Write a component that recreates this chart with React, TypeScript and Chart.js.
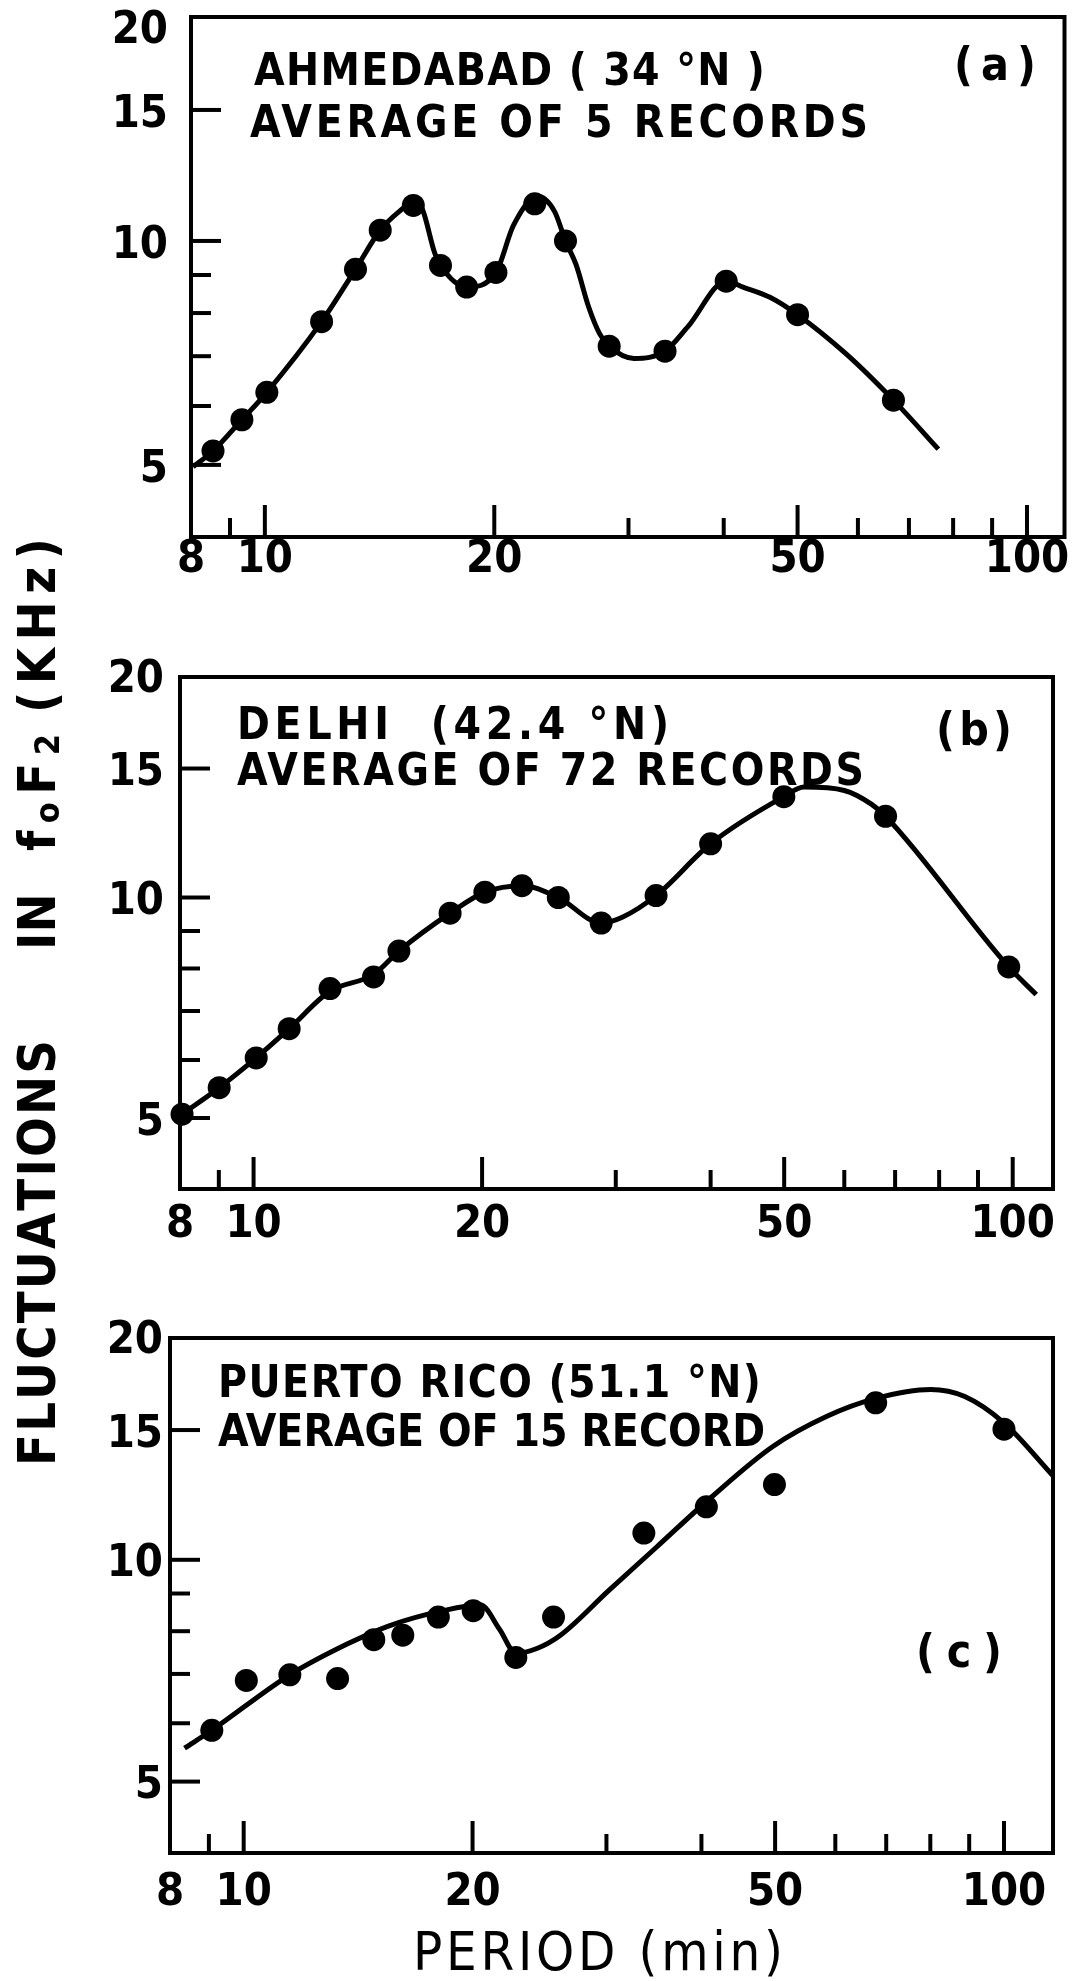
import React, { useEffect, useRef } from 'react';
import { Chart, registerables } from 'chart.js';
Chart.register(...registerables);

// ---------------- data (period in min, fluctuation in kHz) ----------------
// (a) Ahmedabad
const periodsA = [8.55, 9.33, 10.06, 11.87, 13.15, 14.17, 15.66, 17.0, 18.4, 20.1, 22.6, 24.8, 28.3, 33.5, 40.3, 50.0, 66.8];
const fluctA = [5.22, 5.75, 6.26, 7.79, 9.16, 10.34, 11.16, 9.27, 8.67, 9.07, 11.22, 10.0, 7.22, 7.11, 8.83, 7.96, 6.11];
const curvePeriodsA = [8.05, 8.55, 9.33, 10.06, 11.87, 13.15, 14.17, 15.0, 15.7, 16.1, 16.7, 17.0, 18.4, 20.1, 21.2, 22.8, 24.0, 24.8, 25.6, 26.6, 27.5, 28.3, 30.5, 33.5, 35.9, 40.3, 42.4, 46.0, 50.0, 57.9, 66.8, 76.5];
const curveFluctA = [4.97, 5.22, 5.75, 6.26, 7.79, 9.16, 10.34, 10.95, 11.3, 11.02, 9.64, 9.27, 8.67, 9.07, 10.5, 11.48, 10.95, 10.0, 9.3, 8.15, 7.5, 7.22, 6.95, 7.11, 7.67, 8.83, 8.67, 8.4, 7.96, 7.05, 6.11, 5.25];

// (b) Delhi
const periodsB = [8.05, 9.01, 10.08, 11.14, 12.61, 14.39, 15.54, 18.15, 20.17, 22.57, 25.2, 28.7, 33.9, 40.0, 49.95, 68.0, 98.8];
const fluctB = [5.06, 5.5, 6.04, 6.62, 7.51, 7.79, 8.45, 9.52, 10.17, 10.38, 10.0, 9.23, 10.06, 11.84, 13.73, 12.91, 8.04];
const curvePeriodsB = [8.05, 9.01, 10.08, 11.14, 12.61, 14.39, 15.54, 18.15, 20.17, 22.57, 25.2, 28.7, 30.6, 33.9, 40.0, 49.95, 53.1, 60.0, 65.2, 68.0, 98.8, 107.4];
const curveFluctB = [5.06, 5.5, 6.04, 6.62, 7.45, 7.85, 8.45, 9.52, 10.17, 10.38, 10.0, 9.23, 9.4, 10.06, 11.84, 13.73, 14.15, 14.0, 13.4, 12.91, 8.04, 7.37];

// (c) Puerto Rico
const periodsC = [9.08, 10.08, 11.5, 13.29, 14.83, 16.19, 18.03, 20.04, 22.8, 25.56, 33.6, 40.6, 49.9, 67.8, 100];
const fluctC = [5.87, 6.86, 6.98, 6.9, 7.79, 7.9, 8.36, 8.53, 7.37, 8.36, 10.87, 11.8, 12.65, 16.33, 15.04];
const curvePeriodsC = [8.36, 9.08, 11.5, 13.7, 15.5, 18.3, 20.5, 21.7, 22.8, 24.3, 26.1, 30.2, 34.9, 41.1, 49.6, 58.5, 67.8, 80.1, 88.8, 100, 116];
const curveFluctC = [5.55, 5.87, 6.98, 7.69, 8.13, 8.53, 8.68, 8.05, 7.47, 7.58, 7.9, 9.08, 10.4, 12.13, 14.24, 15.66, 16.56, 17.03, 16.66, 15.34, 13.0];

// axis ticks
const yTickMajor = [5, 10, 15];
const yTickMinor = [6, 7, 8, 9];
const yTickLabels = [5, 10, 15, 20];
const xTickMajor = [10, 20, 50, 100];
const xTickMinor = [9, 30, 40, 60, 70, 80, 90];
const xTickLabels = [8, 10, 20, 50, 100];

const Y_MIN = 4;
const Y_MAX = 20;
const X_MIN = 8;

const FAMILY = "'DejaVu Sans Condensed', 'DejaVu Sans', sans-serif";

type Txt = { text: string; x: number; y: number; w: number; size: number; weight: string };

type PanelSpec = {
  top: number;
  height: number;
  pad: { left: number; right: number; top: number; bottom: number };
  xMax: number;
  yLabelRight: number;
  topDy: number;
  xLabelDy: number;
  texts: Txt[];
  px: number[];
  py: number[];
  cx: number[];
  cy: number[];
};

const panels: PanelSpec[] = [
  {
    top: 0, height: 610,
    pad: { left: 191, right: 9, top: 17, bottom: 73 },
    xMax: 112, yLabelRight: 168, topDy: 14, xLabelDy: 23,
    texts: [
      { text: 'AHMEDABAD ( 34 °N )', x: 254, y: 85, w: 511, size: 44, weight: 'bold' },
      { text: 'AVERAGE OF 5 RECORDS', x: 250, y: 137, w: 618, size: 44, weight: 'bold' },
      { text: '(a)', x: 954, y: 80, w: 82, size: 46, weight: 'bold' },
    ],
    px: periodsA, py: fluctA, cx: curvePeriodsA, cy: curveFluctA,
  },
  {
    top: 610, height: 640,
    pad: { left: 180, right: 23, top: 67, bottom: 61 },
    xMax: 113, yLabelRight: 164, topDy: 3, xLabelDy: 36,
    texts: [
      { text: 'DELHI  (42.4 °N)', x: 237, y: 739, w: 432, size: 44, weight: 'bold' },
      { text: 'AVERAGE OF 72 RECORDS', x: 237, y: 785, w: 627, size: 44, weight: 'bold' },
      { text: '(b)', x: 936, y: 745, w: 76, size: 46, weight: 'bold' },
    ],
    px: periodsB, py: fluctB, cx: curvePeriodsB, cy: curveFluctB,
  },
  {
    top: 1250, height: 731,
    pad: { left: 170, right: 23, top: 88, bottom: 128 },
    xMax: 116, yLabelRight: 163, topDy: 3, xLabelDy: 40,
    texts: [
      { text: 'PUERTO RICO (51.1 °N)', x: 218, y: 1397, w: 543, size: 44, weight: 'bold' },
      { text: 'AVERAGE OF 15 RECORD', x: 218, y: 1446, w: 547, size: 44, weight: 'bold' },
      { text: '(c)', x: 916, y: 1667, w: 86, size: 46, weight: 'bold' },
      { text: 'PERIOD (min)', x: 413, y: 1970, w: 370, size: 54, weight: 'normal' },
    ],
    px: periodsC, py: fluctC, cx: curvePeriodsC, cy: curveFluctC,
  },
];

function fitText(ctx: CanvasRenderingContext2D, text: string, x: number, y: number, w: number, font: string) {
  ctx.save();
  ctx.font = font;
  (ctx as any).letterSpacing = '0px';
  ctx.textAlign = 'left';
  ctx.textBaseline = 'alphabetic';
  const nat = ctx.measureText(text).width;
  const n = Array.from(text).length;
  if (nat <= w && n > 1) {
    (ctx as any).letterSpacing = ((w - nat) / (n - 1)).toFixed(2) + 'px';
    ctx.fillText(text, x, y);
  } else {
    ctx.translate(x, y);
    ctx.scale(w / nat, 1);
    ctx.fillText(text, 0, 0);
  }
  ctx.restore();
}

function makePlugin(spec: PanelSpec) {
  return {
    id: 'paperAxes',
    beforeDatasetsDraw(chart: any) {
      const { ctx, chartArea: a } = chart;
      const xs = chart.scales.x;
      const ys = chart.scales.y;
      ctx.save();
      ctx.strokeStyle = '#000';
      ctx.lineWidth = 4;
      ctx.lineCap = 'butt';
      ctx.strokeRect(a.left, a.top, a.right - a.left, a.bottom - a.top);
      const yTick = (v: number, len: number) => {
        const y = ys.getPixelForValue(v);
        ctx.beginPath();
        ctx.moveTo(a.left, y);
        ctx.lineTo(a.left + len, y);
        ctx.stroke();
      };
      yTickMajor.forEach((v) => yTick(v, 30));
      yTickMinor.forEach((v) => yTick(v, 20));
      const xTick = (v: number, len: number) => {
        const x = xs.getPixelForValue(v);
        ctx.beginPath();
        ctx.moveTo(x, a.bottom);
        ctx.lineTo(x, a.bottom - len);
        ctx.stroke();
      };
      xTickMajor.forEach((v) => xTick(v, 32));
      xTickMinor.forEach((v) => xTick(v, 19));
      ctx.restore();
    },
    afterDraw(chart: any) {
      const { ctx, chartArea: a } = chart;
      const xs = chart.scales.x;
      const ys = chart.scales.y;
      ctx.save();
      ctx.fillStyle = '#000';
      ctx.font = `bold 45px ${FAMILY}`;
      ctx.textAlign = 'right';
      ctx.textBaseline = 'middle';
      yTickLabels.forEach((v) => {
        const y = ys.getPixelForValue(v) + (v === Y_MAX ? spec.topDy : 5);
        ctx.fillText(String(v), spec.yLabelRight, y);
      });
      ctx.textAlign = 'center';
      xTickLabels.forEach((v) => {
        const x = xs.getPixelForValue(v);
        ctx.fillText(String(v), x, a.bottom + spec.xLabelDy);
      });
      ctx.restore();
      spec.texts.forEach((t) => {
        ctx.fillStyle = '#000';
        fitText(ctx, t.text, t.x, t.y - spec.top, t.w, `${t.weight} ${t.size}px ${FAMILY}`);
      });
    },
  };
}

function Panel({ spec }: { spec: PanelSpec }) {
  const ref = useRef<HTMLCanvasElement>(null);
  useEffect(() => {
    const canvas = ref.current;
    if (!canvas) return;
    const points = spec.px.map((x, i) => ({ x, y: spec.py[i] }));
    const curve = spec.cx.map((x, i) => ({ x, y: spec.cy[i] }));
    const chart = new Chart(canvas, {
      type: 'scatter',
      data: {
        datasets: [
          {
            data: curve,
            showLine: true,
            borderColor: '#000',
            borderWidth: 5,
            pointRadius: 0,
            cubicInterpolationMode: 'monotone',
            clip: false,
            order: 2,
          } as any,
          {
            data: points,
            pointRadius: 11.5,
            pointBackgroundColor: '#000',
            pointBorderColor: '#000',
            pointBorderWidth: 0,
            showLine: false,
            clip: false,
            order: 1,
          } as any,
        ],
      },
      options: {
        animation: false,
        responsive: false,
        maintainAspectRatio: false,
        events: [],
        layout: { padding: spec.pad },
        plugins: { legend: { display: false }, tooltip: { enabled: false }, title: { display: false } },
        scales: {
          x: { type: 'logarithmic', min: X_MIN, max: spec.xMax, display: false },
          y: { type: 'logarithmic', min: Y_MIN, max: Y_MAX, display: false },
        },
      },
      plugins: [makePlugin(spec)],
    });
    return () => chart.destroy();
  }, [spec]);
  return (
    <canvas
      ref={ref}
      width={1076}
      height={spec.height}
      style={{ position: 'absolute', left: 0, top: spec.top, width: 1076, height: spec.height }}
    />
  );
}

type Word = { parts: { ch: string; sub?: boolean }[]; start: number; width: number };

const yTitleWords: Word[] = [
  { parts: Array.from('FLUCTUATIONS').map((ch) => ({ ch })), start: 0, width: 426 },
  { parts: Array.from('IN').map((ch) => ({ ch })), start: 516, width: 40 },
  { parts: [{ ch: 'f' }, { ch: 'o', sub: true }, { ch: 'F' }, { ch: '2', sub: true }], start: 615, width: 117 },
  { parts: Array.from('(KHz)').map((ch) => ({ ch })), start: 753, width: 175 },
];

function YTitle() {
  const len = 928;
  const cx = 37;
  const cy = 1002;
  return (
    <div
      style={{
        position: 'absolute',
        left: cx - len / 2,
        top: cy - 25,
        width: len,
        height: 50,
        transform: 'rotate(-90deg)',
        transformOrigin: 'center center',
        fontFamily: FAMILY,
        fontWeight: 'bold',
        color: '#000',
      }}
    >
      {yTitleWords.map((w, i) => (
        <div
          key={i}
          style={{
            position: 'absolute',
            left: w.start,
            top: 0,
            width: w.width,
            height: 50,
            display: 'flex',
            justifyContent: 'space-between',
            alignItems: 'flex-start',
          }}
        >
          {w.parts.map((p, j) => (
            <span
              key={j}
              style={{
                display: 'block',
                fontSize: p.sub ? 34 : 52,
                lineHeight: '50px',
                position: 'relative',
                top: p.sub ? 10 : 0,
              }}
            >
              {p.ch}
            </span>
          ))}
        </div>
      ))}
    </div>
  );
}

export default function App() {
  return (
    <div
      style={{
        position: 'absolute',
        left: 0,
        top: 0,
        width: 1076,
        height: 1981,
        background: '#fff',
        overflow: 'hidden',
      }}
    >
      {panels.map((p, i) => (
        <Panel key={i} spec={p} />
      ))}
      <YTitle />
    </div>
  );
}
